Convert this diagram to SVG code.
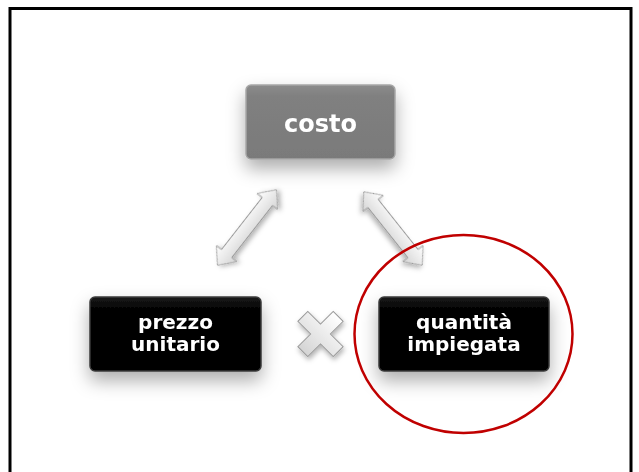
<svg xmlns="http://www.w3.org/2000/svg" width="639" height="472" viewBox="0 0 639 472">
  <defs>
    <filter id="shadow" x="-40%" y="-40%" width="180%" height="220%">
      <feDropShadow dx="0" dy="9" stdDeviation="9" flood-color="#000" flood-opacity="0.32"/>
    </filter>
    <filter id="shadowSmall" x="-40%" y="-40%" width="180%" height="180%">
      <feDropShadow dx="1" dy="3" stdDeviation="2.5" flood-color="#000" flood-opacity="0.3"/>
    </filter>
    <linearGradient id="blackFill" x1="0" y1="0" x2="0" y2="1">
      <stop offset="0" stop-color="#1a1a1a"/>
      <stop offset="0.15" stop-color="#050505"/>
      <stop offset="1" stop-color="#000"/>
    </linearGradient>
    <linearGradient id="grayFill" x1="0" y1="0" x2="0" y2="1">
      <stop offset="0" stop-color="#8c8c8c"/>
      <stop offset="0.15" stop-color="#808080"/>
      <stop offset="1" stop-color="#7a7a7a"/>
    </linearGradient>
    <linearGradient id="arrowFill" x1="0" y1="0" x2="0" y2="1">
      <stop offset="0" stop-color="#ffffff"/>
      <stop offset="1" stop-color="#d4d4d4"/>
    </linearGradient>
  </defs>
  <style>
    .lbl { font-family: "DejaVu Sans", Verdana, sans-serif; font-weight: bold; fill: #ffffff; text-anchor: middle; }
    .box-dark { fill: url(#blackFill); stroke: #3a3a3a; stroke-width: 1.5; }
    .box-gray { fill: url(#grayFill); stroke: #a6a6a6; stroke-width: 1.5; }
    .arrow { fill: url(#arrowFill); stroke: #9a9a9a; stroke-width: 1; }
  </style>

  <rect x="0" y="0" width="639" height="472" fill="#ffffff"/>
  <!-- frame (bottom edge outside view) -->
  <path d="M10 480 V8.5 H631 V480" fill="none" stroke="#000" stroke-width="3"/>

  <g id="connectors">
    <g transform="translate(247,227.5) rotate(-52)" filter="url(#shadowSmall)">
      <polygon class="arrow" points="-48,0 -33,-13 -33,-6.5 33,-6.5 33,-13 48,0 33,13 33,6.5 -33,6.5 -33,13"/>
    </g>
    <g transform="translate(393,228.5) rotate(51.5)" filter="url(#shadowSmall)">
      <polygon class="arrow" points="-47,0 -32,-13 -32,-6.5 32,-6.5 32,-13 47,0 32,13 32,6.5 -32,6.5 -32,13"/>
    </g>
  </g>

  <g id="costo" filter="url(#shadow)">
    <rect class="box-gray" x="246" y="85" width="149" height="74" rx="5"/>
    <text class="lbl" x="320.5" y="132" font-size="24">costo</text>
  </g>

  <g id="prezzo-unitario" filter="url(#shadow)">
    <rect class="box-dark" x="90" y="297" width="171" height="74" rx="5"/>
    <text class="lbl" x="175.5" y="329" font-size="20">prezzo</text>
    <text class="lbl" x="175.5" y="351" font-size="20">unitario</text>
  </g>

  <g id="times" filter="url(#shadowSmall)">
    <g transform="translate(320.5,334) rotate(45)">
      <polygon class="arrow" points="-7,-25 7,-25 7,-7 25,-7 25,7 7,7 7,25 -7,25 -7,7 -25,7 -25,-7 -7,-7"/>
    </g>
  </g>

  <g id="quantita-impiegata" filter="url(#shadow)">
    <rect class="box-dark" x="379" y="297" width="170" height="74" rx="5"/>
    <text class="lbl" x="464" y="329" font-size="20">quantità</text>
    <text class="lbl" x="464" y="351" font-size="20">impiegata</text>
  </g>

  <g id="highlight">
    <ellipse cx="463.5" cy="334" rx="109" ry="99" fill="none" stroke="#c00000" stroke-width="2.5"/>
  </g>
</svg>
